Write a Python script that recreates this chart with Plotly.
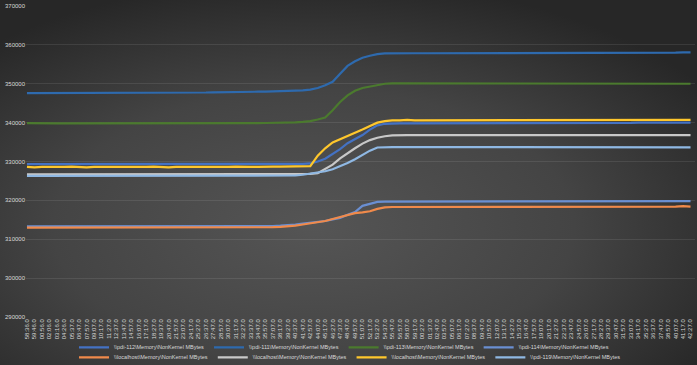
import base64
import plotly.graph_objects as go

# ---------------- data ----------------
time_labels = [
    "58:36.0", "59:46.0", "00:56.0", "02:06.0", "03:16.0", "04:26.0", "05:37.0", "06:47.0", "07:57.0", "09:07.0",
    "10:17.0", "11:27.0", "12:37.0", "13:47.0", "14:57.0", "16:07.0", "17:17.0", "18:27.0", "19:37.0", "20:47.0",
    "21:57.0", "23:07.0", "24:17.0", "25:27.0", "26:37.0", "27:47.0", "28:57.0", "30:07.0", "31:17.0", "32:27.0",
    "33:37.0", "34:47.0", "35:57.0", "37:07.0", "38:17.0", "39:27.0", "40:37.0", "41:47.0", "42:57.0", "44:07.0",
    "45:17.0", "46:27.0", "47:37.0", "48:47.0", "49:57.0", "51:07.0", "52:17.0", "53:27.0", "54:37.0", "55:47.0",
    "56:57.0", "58:07.0", "59:17.0", "00:27.0", "01:37.0", "02:47.0", "03:57.0", "05:07.0", "06:17.0", "07:27.0",
    "08:37.0", "09:47.0", "10:57.0", "12:07.0", "13:17.0", "14:27.0", "15:37.0", "16:47.0", "17:57.0", "19:07.0",
    "20:17.0", "21:27.0", "22:37.0", "23:47.0", "24:57.0", "26:07.0", "27:17.0", "28:27.0", "29:37.0", "30:47.0",
    "31:57.0", "33:07.0", "34:17.0", "35:27.0", "36:37.0", "37:47.0", "38:57.0", "40:07.0", "41:17.0", "42:27.0",
]

pdi_112 = [
    329300, 329300, 329350, 329300, 329300, 329300, 329350, 329300, 329300, 329300,
    329300, 329350, 329300, 329300, 329300, 329300, 329350, 329300, 329300, 329300,
    329300, 329300, 329350, 329350, 329300, 329300, 329350, 329350, 329400, 329400,
    329400, 329400, 329400, 329400, 329400, 329400, 329400, 329400, 329500, 330000,
    330700, 331900, 333200, 334700, 335700, 336800, 338200, 339300, 339700, 339800,
    339800, 339800, 339800, 339850, 339800, 339800, 339850, 339850, 339800, 339850,
    339850, 339850, 339850, 339850, 339900, 339850, 339900, 339900, 339900, 339900,
    339900, 339900, 339900, 339950, 339900, 339950, 339950, 339950, 339950, 339950,
    339950, 339950, 340000, 339950, 340000, 340000, 340000, 340000, 340000, 340000,
]

pdi_111 = [
    347600, 347600, 347650, 347600, 347600, 347650, 347600, 347600, 347650, 347650,
    347650, 347650, 347600, 347650, 347650, 347700, 347650, 347650, 347700, 347700,
    347700, 347700, 347750, 347750, 347750, 347800, 347800, 347800, 347850, 347850,
    347900, 347950, 348000, 348050, 348100, 348150, 348200, 348300, 348500, 348900,
    349600, 350500, 352600, 354600, 355800, 356700, 357200, 357600, 357800, 357850,
    357850, 357850, 357850, 357850, 357850, 357850, 357850, 357850, 357850, 357850,
    357850, 357850, 357850, 357850, 357900, 357900, 357900, 357900, 357900, 357900,
    357900, 357900, 357900, 357900, 357950, 357950, 357950, 357950, 357950, 357950,
    357950, 357950, 358000, 358000, 358000, 358000, 358000, 358000, 358050, 358050,
]

pdi_113 = [
    339850, 339800, 339800, 339850, 339800, 339800, 339800, 339800, 339800, 339800,
    339800, 339750, 339750, 339750, 339750, 339700, 339700, 339700, 339700, 339700,
    339700, 339700, 339700, 339750, 339750, 339750, 339750, 339800, 339800, 339800,
    339850, 339850, 339900, 339900, 339950, 340000, 340050, 340200, 340400, 340800,
    341300, 343200, 345300, 347000, 348200, 348900, 349300, 349700, 350000, 350100,
    350100, 350100, 350100, 350100, 350100, 350100, 350100, 350100, 350100, 350100,
    350100, 350100, 350100, 350100, 350100, 350100, 350100, 350100, 350100, 350100,
    350050, 350050, 350050, 350050, 350050, 350050, 350050, 350050, 350050, 350050,
    350050, 350050, 350050, 350050, 350050, 350000, 350000, 350000, 350000, 350000,
]

pdi_114 = [
    313300, 313300, 313350, 313300, 313300, 313300, 313300, 313350, 313300, 313300,
    313300, 313300, 313300, 313350, 313300, 313300, 313300, 313300, 313300, 313300,
    313300, 313350, 313300, 313300, 313300, 313300, 313300, 313300, 313350, 313300,
    313300, 313300, 313350, 313400, 313500, 313600, 313800, 314000, 314200, 314400,
    314700, 315100, 315500, 316300, 317000, 318600, 319200, 319600, 319700, 319700,
    319700, 319700, 319700, 319700, 319750, 319700, 319700, 319750, 319750, 319700,
    319750, 319750, 319750, 319750, 319750, 319750, 319750, 319750, 319750, 319750,
    319750, 319750, 319800, 319750, 319750, 319800, 319800, 319800, 319800, 319800,
    319800, 319800, 319800, 319800, 319800, 319800, 319800, 319800, 319800, 319800,
]

localhost_orange = [
    313000, 313000, 313000, 313050, 313000, 313000, 313000, 313000, 313000, 313000,
    313000, 313000, 313050, 313000, 313000, 313000, 313000, 313000, 313000, 313000,
    313000, 313000, 313000, 313000, 313050, 313000, 313000, 313000, 313000, 313000,
    313000, 313000, 313050, 313100, 313200, 313300, 313500, 313800, 314100, 314400,
    314700, 315200, 315700, 316300, 316700, 316900, 317200, 317800, 318200, 318300,
    318300, 318300, 318300, 318300, 318300, 318300, 318300, 318300, 318300, 318300,
    318300, 318300, 318300, 318300, 318300, 318300, 318300, 318300, 318300, 318300,
    318300, 318300, 318300, 318300, 318300, 318300, 318300, 318300, 318300, 318300,
    318300, 318300, 318300, 318300, 318300, 318300, 318300, 318400, 318500, 318400,
]

localhost_gray = [
    326700, 326700, 326700, 326700, 326750, 326700, 326700, 326700, 326700, 326700,
    326700, 326700, 326700, 326700, 326700, 326750, 326700, 326700, 326700, 326700,
    326700, 326700, 326700, 326700, 326700, 326700, 326700, 326750, 326700, 326700,
    326700, 326700, 326700, 326700, 326700, 326700, 326700, 326700, 326800, 327000,
    328000, 329200, 330800, 332200, 333400, 334600, 335500, 336100, 336500, 336700,
    336800, 336800, 336800, 336800, 336800, 336800, 336800, 336800, 336800, 336800,
    336800, 336800, 336800, 336800, 336800, 336800, 336800, 336800, 336800, 336800,
    336800, 336800, 336800, 336800, 336800, 336800, 336800, 336800, 336800, 336800,
    336800, 336800, 336800, 336800, 336800, 336800, 336800, 336800, 336800, 336800,
]

localhost_yellow = [
    328600, 328500, 328600, 328600, 328500, 328600, 328700, 328600, 328500, 328600,
    328600, 328500, 328600, 328600, 328500, 328600, 328600, 328700, 328600, 328500,
    328600, 328600, 328500, 328600, 328600, 328500, 328600, 328600, 328700, 328600,
    328600, 328600, 328700, 328700, 328700, 328700, 328700, 328700, 328800, 331500,
    333400, 334900, 335700, 336400, 337400, 338200, 339100, 340000, 340400, 340600,
    340600, 340700, 340600, 340600, 340700, 340600, 340600, 340600, 340700, 340600,
    340600, 340700, 340700, 340600, 340600, 340700, 340700, 340600, 340700, 340700,
    340700, 340600, 340700, 340700, 340700, 340600, 340700, 340700, 340700, 340700,
    340700, 340700, 340700, 340700, 340700, 340700, 340700, 340700, 340700, 340700,
]

pdi_119 = [
    326300, 326300, 326300, 326300, 326300, 326300, 326300, 326300, 326300, 326300,
    326300, 326300, 326300, 326300, 326300, 326300, 326300, 326300, 326300, 326300,
    326300, 326300, 326300, 326300, 326300, 326300, 326300, 326300, 326300, 326300,
    326300, 326300, 326300, 326300, 326300, 326300, 326400, 326600, 326900, 327100,
    327500, 328000, 328700, 329600, 330600, 331700, 332800, 333600, 333700, 333700,
    333700, 333700, 333700, 333700, 333700, 333700, 333700, 333700, 333700, 333700,
    333700, 333700, 333700, 333700, 333700, 333700, 333700, 333700, 333700, 333700,
    333700, 333700, 333700, 333700, 333700, 333650, 333650, 333650, 333650, 333650,
    333650, 333650, 333650, 333650, 333650, 333650, 333650, 333650, 333650, 333650,
]

y_ticks = [290000, 300000, 310000, 320000, 330000, 340000, 350000, 360000, 370000]

series = [
    # (name, values, color, legend group)
    ("\\\\pdi-112\\Memory\\NonKernel MBytes", pdi_112, "#4472C4", "legend"),
    ("\\\\pdi-111\\Memory\\NonKernel MBytes", pdi_111, "#2E6AAE", "legend"),
    ("\\\\pdi-113\\Memory\\NonKernel MBytes", pdi_113, "#4B7A2E", "legend"),
    ("\\\\pdi-114\\Memory\\NonKernel MBytes", pdi_114, "#6A8FD2", "legend"),
    ("\\\\localhost\\Memory\\NonKernel MBytes", localhost_orange, "#F08A4B", "legend2"),
    ("\\\\localhost\\Memory\\NonKernel MBytes", localhost_gray, "#C8C8C8", "legend2"),
    ("\\\\localhost\\Memory\\NonKernel MBytes", localhost_yellow, "#FFC72C", "legend2"),
    ("\\\\pdi-119\\Memory\\NonKernel MBytes", pdi_119, "#8FB8E3", "legend2"),
]

x_idx = list(range(len(time_labels)))

fig = go.Figure()
for name, vals, color, lg in series:
    fig.add_trace(go.Scatter(
        x=x_idx, y=vals, mode="lines", name=name,
        line=dict(color=color, width=2.2),
        legend=lg,
    ))

# background radial gradient
W, H = 697, 365
ML, MR, MT, MB = 26, 2, 6, 48
PW, PH = W - ML - MR, H - MT - MB
svg = (
    "<svg xmlns='http://www.w3.org/2000/svg' width='697' height='365' viewBox='0 0 697 365' "
    "preserveAspectRatio='none'><defs><radialGradient id='g' cx='0.45' cy='0.62' r='0.68'>"
    "<stop offset='0' stop-color='#555555'/><stop offset='0.55' stop-color='#444444'/>"
    "<stop offset='1' stop-color='#272727'/></radialGradient></defs>"
    "<rect width='697' height='365' fill='url(#g)'/></svg>"
)
src = "data:image/svg+xml;base64," + base64.b64encode(svg.encode()).decode()

fnt = "Liberation Sans, Arial, sans-serif"
legend_common = dict(
    orientation="h", xanchor="left", yanchor="middle",
    bgcolor="rgba(0,0,0,0)", font=dict(size=5.5, color="#d9d9d9", family=fnt),
    itemwidth=30, tracegroupgap=0,
)

fig.update_layout(
    width=W, height=H,
    margin=dict(l=ML, r=MR, t=MT, b=MB, autoexpand=False),
    paper_bgcolor="#383838",
    plot_bgcolor="rgba(0,0,0,0)",
    images=[dict(source=src, xref="paper", yref="paper",
                 x=-ML / PW, y=1 + MT / PH, sizex=W / PW, sizey=H / PH,
                 xanchor="left", yanchor="top", sizing="stretch", layer="below")],
    legend=dict(x=(74 - ML) / PW, y=(316.7 - 347) / PH, **legend_common),
    legend2=dict(x=(74 - ML) / PW, y=(316.7 - 357) / PH, **legend_common),
    showlegend=True,
    xaxis=dict(
        range=[-0.13, 89.6], automargin=False,
        tickmode="array", tickvals=x_idx, ticktext=time_labels,
        tickangle=-90, tickfont=dict(size=6, color="#d9d9d9", family=fnt),
        showgrid=False, zeroline=False, showline=False, ticks="",
    ),
    yaxis=dict(
        range=[290000, 370000], automargin=False,
        tickmode="array", tickvals=y_ticks, ticktext=[str(v) for v in y_ticks],
        tickfont=dict(size=6, color="#d9d9d9", family=fnt),
        showgrid=True, gridcolor="rgba(255,255,255,0.09)", gridwidth=1,
        zeroline=False, showline=False, ticks="",
    ),
)

fig.write_html(
    "out.html",
    config={"displayModeBar": False},
    post_script="document.body.style.margin='0';document.body.style.overflow='hidden';",
)
